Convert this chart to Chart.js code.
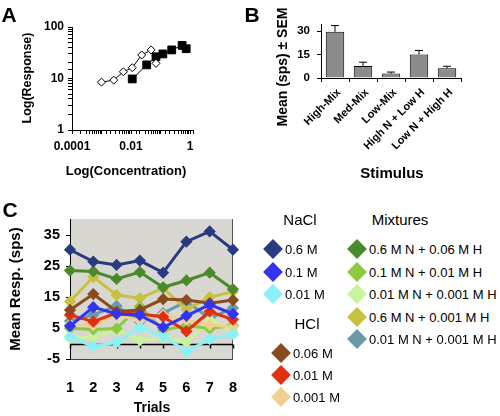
<!DOCTYPE html>
<html><head><meta charset="utf-8">
<script src="https://cdn.jsdelivr.net/npm/chart.js@4/dist/chart.umd.min.js"></script>
<style>
body{margin:0;background:#fff;width:500px;height:416px;overflow:hidden;font-family:"Liberation Sans",Arial,sans-serif;}
#wrap{position:relative;width:500px;height:416px;}
canvas{position:absolute;}
.t{position:absolute;white-space:nowrap;transform:translate(-50%,-50%);line-height:1;color:#000;font-weight:bold;}
.r{transform:translate(-50%,-50%) rotate(-90deg);}
.lh{position:absolute;white-space:nowrap;font-size:15px;line-height:1;transform:translate(-50%,-50%);}
.lg{position:absolute;white-space:nowrap;font-size:13px;line-height:1;transform:translateY(-50%);}
.dm{position:absolute;width:14px;height:14px;transform:translate(-50%,-50%) rotate(45deg);}
</style></head>
<body><div id="wrap">
<canvas id="ca" width="240" height="200" style="left:0;top:0"></canvas>
<canvas id="cb" width="250" height="200" style="left:250px;top:0"></canvas>
<canvas id="cc" width="249" height="216" style="left:0;top:200px"></canvas>
<div class="t" style="left:9px;top:14px;font-size:21px">A</div>
<div class="t" style="left:252px;top:14px;font-size:21px">B</div>
<div class="t" style="left:10px;top:209px;font-size:21px">C</div>
<div class="t r" style="left:27px;top:78px;font-size:12.5px">Log(Response)</div>
<div class="t" style="left:126px;top:170px;font-size:13px">Log(Concentration)</div>
<div class="t r" style="left:282px;top:67px;font-size:14px">Mean (sps) ± SEM</div>
<div class="t" style="left:392px;top:172px;font-size:15px">Stimulus</div>
<div class="t r" style="left:14px;top:289px;font-size:15px">Mean Resp. (sps)</div>
<div class="t" style="left:152px;top:407px;font-size:14px">Trials</div>
<div id="legend"></div>
</div>
<script>
// ---- Panel A data ----
const concHCl = [0.001, 0.0026, 0.0055, 0.011, 0.023, 0.048, 0.07];
const respHCl = [8.5, 9.3, 13.5, 16.2, 28.6, 35.9, 19.7];
const concNaCl = [0.011, 0.034, 0.07, 0.12, 0.24, 0.54, 0.74];
const respNaCl = [9.8, 18.4, 26.4, 30, 35.9, 44, 37.9];
const xTickLabelsA = [0.0001, 0.01, 1];
const yTickLabelsA = [1, 10, 100];

// ---- Panel B data ----
const stimuli = ['High-Mix', 'Med-Mix', 'Low-Mix', 'High N + Low H', 'Low N + High H'];
const meanResp = [29.5, 7.7, 2.8, 15, 6.2];
const semResp = [4, 2.4, 1, 2.6, 1.3];
const yTicksB = [0, 15, 30];

// ---- Panel C data ----
const trials = ['1', '2', '3', '4', '5', '6', '7', '8'];
const yTicksC = [-5, 5, 15, 25, 35];
const nacl06 = [30.3, 26.5, 25.4, 26.8, 22.9, 32.9, 36.2, 30.3];
const nacl01 = [5.7, 11.8, 9.6, 9.2, 5.3, 9.0, 12.6, 9.6];
const nacl001 = [2.3, -0.9, 0.5, 5.2, 2.5, -2.5, 1.5, 3.1];
const hcl006 = [10.9, 16.0, 10.4, 10.9, 14.4, 14.1, 13.1, 14.1];
const hcl001 = [9.3, 7.1, 10.0, 9.6, 8.7, 4.0, 10.4, 7.8];
const hcl0001 = [6.2, 6.0, 9.3, 7.5, 9.3, 7.7, 6.1, 5.3];
const mix06N006H = [23.6, 23.3, 20.9, 23.1, 18.2, 20.4, 22.9, 17.6];
const mix01N001H = [5.0, 4.6, 4.9, 12.0, 4.4, 5.9, 4.9, 5.9];
const mix001N0001H = [1.8, 2.2, 4.5, 1.1, 2.0, 0.5, 7.7, 3.8];
const mix06N0001H = [13.6, 21.5, 15.7, 14.7, 17.9, 11.1, 15.0, 16.8];
const mix001N0001Hb = [7.3, 9.3, 12.2, 7.1, 9.9, 13.6, 8.2, 11.5];

const seriesC = [
  {group:'NaCl', label:'0.6 M', color:'#283a80', values:nacl06},
  {group:'NaCl', label:'0.1 M', color:'#3434f0', values:nacl01},
  {group:'NaCl', label:'0.01 M', color:'#88f2f8', values:nacl001},
  {group:'HCl', label:'0.06 M', color:'#8b4a1e', values:hcl006},
  {group:'HCl', label:'0.01 M', color:'#e03010', values:hcl001},
  {group:'HCl', label:'0.001 M', color:'#f0d090', values:hcl0001},
  {group:'Mixtures', label:'0.6 M N + 0.06 M H', color:'#4a8a2a', values:mix06N006H},
  {group:'Mixtures', label:'0.1 M N + 0.01 M H', color:'#8cc840', values:mix01N001H},
  {group:'Mixtures', label:'0.01 M N + 0.001 M H', color:'#c8f59a', values:mix001N0001H},
  {group:'Mixtures', label:'0.6 M N + 0.001 M H', color:'#c8c040', values:mix06N0001H},
  {group:'Mixtures', label:'0.01 M N + 0.001 M H', color:'#6a9aaa', values:mix001N0001Hb}
];

const FONT = '"Liberation Sans", Arial, sans-serif';
Chart.defaults.font.family = FONT;
Chart.defaults.color = '#000';

function isLabelTick(v, list){
  const l = Math.log10(v);
  const m = list.find(t => Math.abs(Math.log10(t) - l) < 1e-6);
  return m === undefined ? '' : String(m);
}

// ---- Panel A ----
new Chart(document.getElementById('ca'), {
  type: 'scatter',
  data: {datasets: [
    {data: concHCl.map((x, i) => ({x, y: respHCl[i]})), showLine: true, borderColor: '#000', borderWidth: 1,
     pointStyle: 'rectRot', pointRadius: 4, pointBackgroundColor: '#fff', pointBorderColor: '#000', pointBorderWidth: 1},
    {data: concNaCl.map((x, i) => ({x, y: respNaCl[i]})), showLine: true, borderColor: '#000', borderWidth: 1,
     pointStyle: 'rect', pointRadius: 5.5, pointBackgroundColor: '#000', pointBorderColor: '#000', pointBorderWidth: 1}
  ]},
  options: {
    responsive: false, animation: false, devicePixelRatio: 1,
    layout: {padding: {left: 0, right: 47, top: 27, bottom: 0}},
    plugins: {legend: {display: false}, tooltip: {enabled: false}},
    scales: {
      x: {type: 'logarithmic', min: 0.0001, max: 1.26, afterFit: s => { s.height = 70; },
          grid: {drawOnChartArea: false, tickLength: 4, color: '#000'}, border: {color: '#000'},
          ticks: {autoSkip: false, maxRotation: 0, padding: 5, font: {size: 12, weight: 'bold'}, color: '#000',
                  callback: v => isLabelTick(v, xTickLabelsA)}},
      y: {type: 'logarithmic', min: 1, max: 100, afterFit: s => { s.width = 72; },
          grid: {drawOnChartArea: false, tickLength: 4, color: '#000'}, border: {color: '#000'},
          ticks: {autoSkip: false, padding: 4, font: {size: 12, weight: 'bold'}, color: '#000',
                  callback: v => isLabelTick(v, yTickLabelsA)}}
    }
  }
});

// ---- Panel B ----
const errorBars = {
  id: 'errorBars',
  afterDatasetsDraw(chart) {
    const ctx = chart.ctx, y = chart.scales.y;
    const meta = chart.getDatasetMeta(0);
    ctx.save();
    ctx.strokeStyle = '#000'; ctx.lineWidth = 1;
    meta.data.forEach((bar, i) => {
      const top = y.getPixelForValue(meanResp[i] + semResp[i]);
      ctx.beginPath();
      ctx.moveTo(bar.x, bar.y); ctx.lineTo(bar.x, top);
      ctx.moveTo(bar.x - 4, top); ctx.lineTo(bar.x + 4, top);
      ctx.stroke();
    });
    ctx.restore();
  }
};
new Chart(document.getElementById('cb'), {
  type: 'bar',
  data: {labels: stimuli, datasets: [{data: meanResp, backgroundColor: '#8c8c8c', borderColor: '#000', borderWidth: 1,
    categoryPercentage: 1, barPercentage: 0.66}]},
  options: {
    responsive: false, animation: false, devicePixelRatio: 1,
    layout: {padding: {left: 0, right: 39, top: 24, bottom: 0}},
    plugins: {legend: {display: false}, tooltip: {enabled: false}},
    scales: {
      x: {afterFit: s => { s.height = 122; }, grid: {drawOnChartArea: false, tickLength: 4, color: '#000'},
          border: {color: '#000'},
          ticks: {minRotation: 45, maxRotation: 45, autoSkip: false, padding: 4, labelOffset: 4,
                  font: {size: 11, weight: 'bold'}, color: '#000'}},
      y: {min: 0, max: 34.5, afterFit: s => { s.width = 71; },
          afterBuildTicks: s => { s.ticks = yTicksB.map(v => ({value: v})); },
          grid: {drawOnChartArea: false, tickLength: 4, color: '#000'},
          border: {color: '#000'},
          ticks: {padding: 7, font: {size: 11.5, weight: 'bold'}, color: '#000'}}
    }
  },
  plugins: [errorBars]
});

// ---- Panel C ----
const plotBg = {
  id: 'plotBg',
  beforeDraw(chart) {
    const {ctx, chartArea: a} = chart;
    ctx.save(); ctx.fillStyle = '#d9d7d1';
    ctx.fillRect(a.left, a.top, a.right - a.left, a.bottom - a.top);
    ctx.strokeStyle = '#555'; ctx.lineWidth = 1;
    ctx.beginPath();
    ctx.moveTo(Math.round(a.right) - 0.5, a.top); ctx.lineTo(Math.round(a.right) - 0.5, a.bottom);
    ctx.stroke();
    ctx.restore();
  },
  beforeDatasetsDraw(chart) {
    const {ctx, chartArea: a, scales} = chart;
    const y0 = Math.round(scales.y.getPixelForValue(0)) + 0.5;
    ctx.save(); ctx.strokeStyle = '#000'; ctx.lineWidth = 1.5;
    ctx.beginPath(); ctx.moveTo(a.left, y0); ctx.lineTo(a.right, y0);
    trials.forEach((t, i) => {
      const x = Math.round(scales.x.getPixelForValue(i)) + 0.5;
      ctx.moveTo(x, y0); ctx.lineTo(x, y0 + 4);
    });
    ctx.stroke(); ctx.restore();
  }
};
new Chart(document.getElementById('cc'), {
  type: 'line',
  data: {labels: trials, datasets: seriesC.map(s => ({
    label: s.label, data: s.values, borderColor: s.color, backgroundColor: s.color,
    pointBackgroundColor: s.color, pointBorderColor: s.color, borderWidth: 3,
    pointStyle: 'rectRot', pointRadius: 4, tension: 0}))},
  options: {
    responsive: false, animation: false, devicePixelRatio: 1,
    layout: {padding: {left: 0, right: 11.7, top: 19, bottom: 0}},
    plugins: {legend: {display: false}, tooltip: {enabled: false}},
    scales: {
      x: {offset: false, afterFit: s => { s.height = 56.7; }, grid: {display: false},
          border: {display: true, color: '#444'},
          ticks: {padding: 12, font: {size: 14.5, weight: 'bold'}, color: '#000'}},
      y: {min: -5, max: 40.2, afterFit: s => { s.width = 70; },
          afterBuildTicks: s => { s.ticks = yTicksC.map(v => ({value: v})); },
          grid: {drawOnChartArea: false, tickLength: 4, color: '#000'}, border: {color: '#000'},
          ticks: {padding: 6, font: {size: 14.5, weight: 'bold'}, color: '#000'}}
    }
  },
  plugins: [plotBg]
});

// ---- Legend (HTML) ----
const legendLayout = {
  NaCl: {hx: 300, hy: 219, dx: 273, tx: 285, ys: [249, 272, 294]},
  HCl: {hx: 307, hy: 323, dx: 281, tx: 293, ys: [353, 375, 397]},
  Mixtures: {hx: 400, hy: 219, dx: 357, tx: 369, ys: [249, 272, 294, 317, 339]}
};
const lg = document.getElementById('legend');
const counters = {};
Object.keys(legendLayout).forEach(g => {
  const L = legendLayout[g];
  const h = document.createElement('div');
  h.className = 'lh'; h.style.left = L.hx + 'px'; h.style.top = L.hy + 'px'; h.textContent = g;
  lg.appendChild(h);
});
seriesC.forEach(s => {
  const L = legendLayout[s.group];
  const k = counters[s.group] = (counters[s.group] || 0);
  counters[s.group]++;
  const y = L.ys[k];
  const d = document.createElement('div');
  d.className = 'dm'; d.style.left = L.dx + 'px'; d.style.top = y + 'px'; d.style.background = s.color;
  lg.appendChild(d);
  const t = document.createElement('div');
  t.className = 'lg'; t.style.left = L.tx + 'px'; t.style.top = y + 'px'; t.textContent = s.label;
  lg.appendChild(t);
});
</script>
</body></html>
